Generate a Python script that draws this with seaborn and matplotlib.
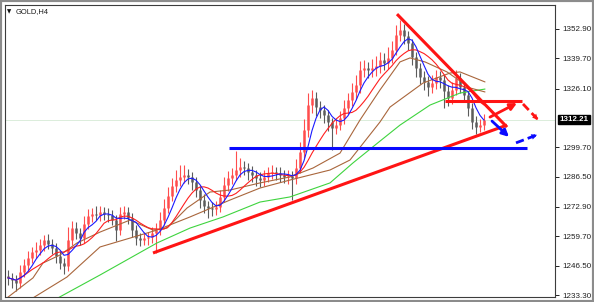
import numpy as np
import pandas as pd
import matplotlib
matplotlib.use("Agg")
import matplotlib.pyplot as plt
import seaborn as sns
from matplotlib.patches import Rectangle

# ---------------- data ----------------
title = "GOLD,H4"
first_open = 1242.0
closes = [
    1241.0, 1240.1, 1238.8, 1243.7, 1246.8, 1250.0, 1252.7, 1253.6, 1255.8, 1258.1,
    1256.3, 1254.5, 1250.9, 1247.7, 1246.4, 1258.1, 1263.5, 1261.2, 1259.0, 1265.3,
    1268.9, 1269.8, 1269.2, 1270.7, 1269.8, 1269.3, 1267.1, 1262.6, 1269.8, 1270.7,
    1268.0, 1262.6, 1259.0, 1258.1, 1259.0, 1259.4, 1261.2, 1262.6, 1267.1, 1272.5,
    1277.9, 1282.3, 1285.0, 1286.4, 1287.3, 1286.4, 1284.1, 1280.5, 1276.1, 1273.4,
    1272.5, 1272.0, 1272.9, 1277.4, 1282.8, 1285.9, 1287.3, 1289.5, 1290.9, 1290.4,
    1288.6, 1287.3, 1285.9, 1285.0, 1286.4, 1288.2, 1288.6, 1288.2, 1287.3, 1286.4,
    1286.9, 1285.9, 1290.4, 1297.6, 1307.5, 1318.7, 1321.9, 1317.8, 1316.5, 1314.3,
    1311.1, 1308.4, 1309.8, 1312.9, 1317.4, 1321.0, 1324.6, 1327.7, 1334.5, 1335.4,
    1334.5, 1335.4, 1336.3, 1339.0, 1337.6, 1339.9, 1343.5, 1350.2, 1352.5, 1349.8,
    1346.6, 1340.3, 1335.4, 1331.3, 1329.1, 1326.8, 1328.6, 1331.3, 1330.0, 1325.0,
    1321.9, 1325.5, 1330.9, 1326.8, 1323.2, 1317.4, 1311.1, 1308.9, 1309.8, 1312.21,
]
wick_up = [
    2.5, 2.2, 2.0, 3.0, 2.6, 3.2, 2.4, 3.5, 2.8, 2.2,
    2.5, 2.0, 2.3, 2.1, 2.4, 6.0, 3.0, 2.5, 2.2, 3.4,
    3.0, 2.6, 3.4, 2.8, 2.2, 2.5, 2.0, 2.3, 3.2, 2.8,
    2.2, 2.4, 2.0, 2.1, 2.5, 2.2, 2.8, 3.0, 3.5, 4.0,
    3.8, 3.5, 4.5, 5.2, 4.5, 2.5, 2.2, 2.3, 2.0, 2.4,
    2.2, 2.6, 2.8, 3.0, 3.5, 3.2, 3.0, 8.5, 4.0, 2.5,
    2.2, 2.8, 2.4, 2.5, 3.0, 2.8, 3.2, 2.3, 2.6, 2.2,
    2.5, 2.2, 4.0, 4.5, 5.0, 5.5, 3.6, 2.5, 2.8, 2.2,
    2.4, 2.0, 2.6, 3.0, 3.5, 3.2, 4.0, 4.5, 4.2, 3.5,
    2.8, 3.8, 4.5, 3.5, 3.2, 4.8, 4.0, 4.5, 4.4, 2.5,
    2.2, 2.0, 2.4, 2.2, 2.8, 2.5, 3.5, 3.2, 2.8, 2.2,
    2.5, 3.5, 3.6, 2.2, 2.4, 2.0, 2.2, 2.8, 2.5, 2.3,
]
wick_dn = [
    3.0, 3.5, 3.8, 2.5, 2.2, 2.6, 2.3, 2.8, 2.2, 2.5,
    2.3, 2.6, 3.0, 2.8, 3.5, 2.2, 2.5, 2.8, 3.2, 2.2,
    2.4, 2.6, 2.2, 2.5, 2.8, 3.0, 2.5, 5.0, 2.2, 2.5,
    2.8, 3.0, 3.2, 2.8, 2.5, 3.0, 2.8, 9.0, 2.5, 2.2,
    2.4, 2.2, 2.5, 2.6, 2.8, 3.0, 3.5, 3.2, 3.8, 3.0,
    4.5, 3.0, 2.5, 2.2, 2.4, 2.6, 2.8, 2.5, 3.0, 3.2,
    3.5, 3.0, 3.8, 3.2, 2.8, 2.5, 2.6, 3.0, 3.4, 2.8,
    3.0, 9.8, 2.5, 2.2, 2.5, 3.0, 3.5, 4.0, 3.8, 3.5,
    4.0, 9.9, 2.5, 2.2, 2.6, 2.5, 2.8, 3.0, 3.5, 3.2,
    3.8, 3.0, 3.5, 3.0, 3.2, 2.8, 2.5, 2.5, 2.8, 3.5,
    3.2, 3.5, 4.0, 3.2, 3.5, 4.0, 2.8, 2.5, 3.5, 7.6,
    3.5, 2.5, 2.2, 2.8, 3.0, 3.5, 3.2, 3.0, 2.5, 2.2,
]

# slower moving averages (at a few bars)
ma_a_bar = [-0.25, 6.25, 8.75, 13, 17.25, 23, 30.5, 36.25, 39.75, 44.75, 50.5, 55.5,
            63, 70.5, 76.25, 83, 88, 93, 98, 100.5, 104.25, 109.75, 115.5, 119.25]
ma_a_val = [1232.0, 1241.0, 1247.7, 1251.3, 1256.7, 1261.6, 1267.0, 1262.5, 1263.4,
            1272.4, 1279.6, 1280.5, 1283.7, 1286.4, 1290.4, 1297.1, 1312.0, 1325.5,
            1338.1, 1339.9, 1338.1, 1333.6, 1326.4, 1324.6]
ma_b_bar = [6.25, 14.75, 23, 37.25, 45.5, 55.5, 63, 70.5, 80.5, 85.5, 93, 95.5,
            103.75, 110.5, 113, 119.25]
ma_b_val = [1232.0, 1241.4, 1254.9, 1262.5, 1268.4, 1276.0, 1281.4, 1285.0, 1289.5,
            1294.0, 1311.1, 1317.8, 1328.6, 1333.1, 1333.6, 1329.1]
ma_g_bar = [12.5, 23, 37.25, 45.5, 53.75, 63, 70.5, 80.5, 86.25, 93, 98, 105.5, 113, 119.25]
ma_g_val = [1232.0, 1242.3, 1256.7, 1263.4, 1268.4, 1275.1, 1277.4, 1283.7, 1292.7,
            1302.5, 1309.7, 1318.7, 1324.1, 1325.9]

# drawn trend lines (bar index, price)
support_bar = [36.25, 124.75]
support_val = [1252.2, 1309.7]
resist_bar = [97.25, 124.75]
resist_val = [1359.6, 1308.8]
red_level_bar = [109.25, 128.5]
red_level_val = [1320.5, 1320.5]
blue_level_bar = [55.25, 129.75]
blue_level_val = [1299.4, 1299.4]
red_arrow = [(120.5, 1313.3), (127.25, 1319.6)]
red_arrow_dash = [(128.75, 1319.2), (132.5, 1312.1)]
blue_arrow = [(121.0, 1311.5), (125.25, 1304.4)]
blue_arrow_dash = [(127.0, 1301.7), (132.25, 1305.3)]

yticks = [1352.90, 1339.70, 1326.10, 1299.70, 1286.50, 1272.90, 1259.70, 1246.50, 1233.30]
last_price = 1312.21

# ---------------- drawing ----------------
sns.set_theme(style="white")
plt.rcParams["font.family"] = ["Liberation Sans", "DejaVu Sans"]

fig = plt.figure(figsize=(5.94, 3.02), dpi=100)
fig.patch.set_facecolor("white")
ax = fig.add_axes([5 / 594, 5 / 302, 550 / 594, 292 / 302])
ax.set_facecolor("white")

ax.axhline(last_price, color="#d6ead6", lw=0.6, zorder=0)

c = np.array(closes)
o = np.r_[first_open, c[:-1]]
bars = np.arange(len(c))
body_top = np.maximum(o, c)
body_bot = np.minimum(o, c)
hi = body_top + np.array(wick_up)
lo = body_bot - np.array(wick_dn)
cols = np.where(c >= o, "#ff4d4d", "#5c5c5c")
ax.vlines(bars, lo, hi, colors=cols, lw=0.8, zorder=2)
ax.vlines(bars, body_bot, body_top, colors=cols, lw=1.8, zorder=2)

df = pd.DataFrame({"bar": bars, "close": c})
df["fast"] = df["close"].rolling(5, min_periods=1).mean()
df["mid"] = df["close"].rolling(10, min_periods=1).mean()

brown = "#a9663c"
sns.lineplot(x=ma_g_bar, y=ma_g_val, color="#3ed43e", lw=0.8, ax=ax, zorder=3)
sns.lineplot(x=ma_b_bar, y=ma_b_val, color=brown, lw=0.8, ax=ax, zorder=3)
sns.lineplot(x=ma_a_bar, y=ma_a_val, color=brown, lw=0.8, ax=ax, zorder=3)
sns.lineplot(data=df, x="bar", y="mid", color="#ff1f1f", lw=0.8, ax=ax, zorder=4)
sns.lineplot(data=df, x="bar", y="fast", color="#1a1aff", lw=0.8, ax=ax, zorder=5)

red = "#ff1414"
blue = "#0a0aff"
for bx, by, col in [(support_bar, support_val, red), (resist_bar, resist_val, red),
                    (red_level_bar, red_level_val, red), (blue_level_bar, blue_level_val, blue)]:
    ax.plot(bx, by, color=col, lw=2.2, solid_capstyle="butt", zorder=6)

for (tail, head), col, dashed in [(red_arrow, red, False), (red_arrow_dash, red, True),
                                  (blue_arrow, blue, False), (blue_arrow_dash, blue, True)]:
    if dashed:
        ax.plot([tail[0], head[0]], [tail[1], head[1]], color=col, lw=2.0,
                ls=(0, (3, 1.5)), zorder=7)
        ax.annotate("", xy=head, xytext=tail,
                    arrowprops=dict(arrowstyle="-|>", color=col, lw=0.01,
                                    mutation_scale=10, shrinkA=0, shrinkB=0), zorder=7)
    else:
        ax.annotate("", xy=head, xytext=tail,
                    arrowprops=dict(arrowstyle="-|>", color=col, lw=2.0,
                                    mutation_scale=10, shrinkA=0, shrinkB=0), zorder=7)

ax.set_xlim(-0.75, 136.75)
ax.set_ylim(1232.41, 1363.69)
ax.set_xlabel("")
ax.set_ylabel("")
ax.set_xticks([])
ax.yaxis.tick_right()
ax.set_yticks(yticks)
ax.set_yticklabels([f"{t:.2f}" for t in yticks])
ax.tick_params(axis="y", right=True, left=False, length=3, width=0.7, pad=2,
               labelsize=5.8, colors="#202020", direction="out")
for s in ax.spines.values():
    s.set_color("#3c3c3c")
    s.set_linewidth(0.8)

ax.annotate(f"{last_price:.2f}", xy=(1, last_price), xycoords=("axes fraction", "data"),
            xytext=(3.2, 0), textcoords="offset points", ha="left", va="center",
            fontsize=5.8, color="white", fontweight="bold",
            bbox=dict(boxstyle="square,pad=0.18", fc="black", ec="black"))

fig.text(9.5 / 594, 1 - 11.5 / 302, "\u25bc", fontsize=4, ha="center", va="center",
         color="#111111", family=["DejaVu Sans"])
fig.text(16 / 594, 1 - 11.5 / 302, title, fontsize=5.4, ha="left", va="center", color="#1a1a1a")

fig.patches.append(Rectangle((0, 0), 1, 1, transform=fig.transFigure, fill=False,
                             ec="#8c8c8c", lw=3.0, zorder=10))

fig.savefig("out.png", dpi=100)
